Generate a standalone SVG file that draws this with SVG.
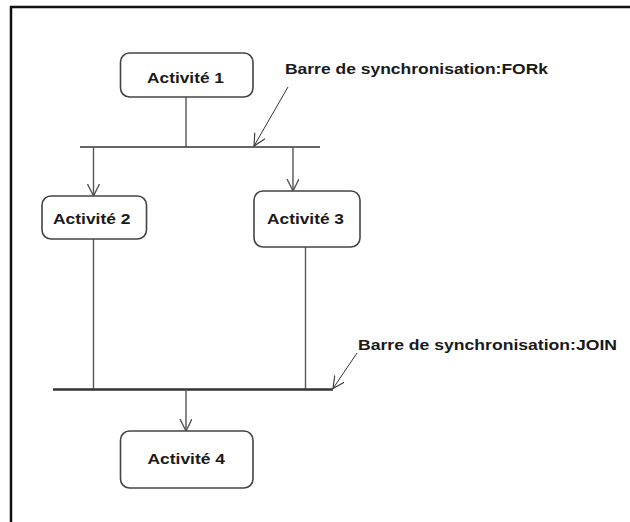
<svg xmlns="http://www.w3.org/2000/svg" width="630" height="522" viewBox="0 0 630 522">
  <style>
    .frame { stroke: #111; stroke-width: 2.5; fill: none; }
    .act rect { fill: #fff; stroke: #444; stroke-width: 1.6; }
    .act text, .note { font-family: "Liberation Sans", Arial, sans-serif; font-weight: bold; font-size: 15px; fill: #1a1a1a; }
    .flow { stroke: #555; stroke-width: 1.4; fill: none; }
    .bar { stroke: #333; fill: none; }
    .pointer { stroke: #333; stroke-width: 1; fill: none; }
  </style>
  <defs>
    <marker id="openArrow" markerWidth="14" markerHeight="14" refX="12" refY="6" orient="auto" markerUnits="userSpaceOnUse">
      <path d="M0,0 L12,6 L0,12" fill="none" stroke="#555" stroke-width="1.4"/>
    </marker>
    <marker id="noteArrow" markerWidth="14" markerHeight="14" refX="12" refY="6" orient="auto" markerUnits="userSpaceOnUse">
      <path d="M0,0 L12,6 L0,12" fill="none" stroke="#333" stroke-width="1.1"/>
    </marker>
  </defs>

  <rect width="630" height="522" fill="#fff"/>
  <!-- outer frame: only top and left edges are visible -->
  <path class="frame" d="M11,522 L11,7 L630,7"/>

  <!-- connectors and synchronisation bars -->
  <g id="connectors">
    <line class="flow" x1="186" y1="97" x2="186" y2="147"/>
    <line class="bar" x1="80" y1="147" x2="320" y2="147" stroke-width="1.6"/>
    <line class="flow" x1="93.5" y1="147" x2="93.5" y2="196" marker-end="url(#openArrow)"/>
    <line class="flow" x1="293" y1="147" x2="293" y2="191" marker-end="url(#openArrow)"/>
    <line class="flow" x1="93.5" y1="239" x2="93.5" y2="389"/>
    <line class="flow" x1="305.5" y1="247" x2="305.5" y2="389"/>
    <line class="bar" x1="53" y1="389.5" x2="333" y2="389.5" stroke-width="2.6"/>
    <line class="flow" x1="186" y1="389" x2="186" y2="431" marker-end="url(#openArrow)"/>
    <line class="pointer" x1="288" y1="87" x2="254" y2="146" marker-end="url(#noteArrow)"/>
    <line class="pointer" x1="357" y1="353" x2="333" y2="388.5" marker-end="url(#noteArrow)"/>
  </g>

  <g id="activite1" class="act">
    <rect x="120.5" y="53" width="132.5" height="44" rx="9"/>
    <text x="147" y="83" textLength="77" lengthAdjust="spacingAndGlyphs">Activité 1</text>
  </g>
  <g id="activite2" class="act">
    <rect x="42" y="196" width="104.5" height="43" rx="9"/>
    <text x="53" y="224" textLength="77.5" lengthAdjust="spacingAndGlyphs">Activité 2</text>
  </g>
  <g id="activite3" class="act">
    <rect x="254" y="191" width="106" height="56" rx="9"/>
    <text x="267" y="224" textLength="77" lengthAdjust="spacingAndGlyphs">Activité 3</text>
  </g>
  <g id="activite4" class="act">
    <rect x="120.5" y="431" width="132.5" height="57" rx="9"/>
    <text x="147.5" y="464" textLength="77.5" lengthAdjust="spacingAndGlyphs">Activité 4</text>
  </g>

  <g id="note-fork">
    <text class="note" x="285" y="74" textLength="263" lengthAdjust="spacingAndGlyphs">Barre de synchronisation:FORk</text>
  </g>
  <g id="note-join">
    <text class="note" x="358" y="350" textLength="259" lengthAdjust="spacingAndGlyphs">Barre de synchronisation:JOIN</text>
  </g>
</svg>
